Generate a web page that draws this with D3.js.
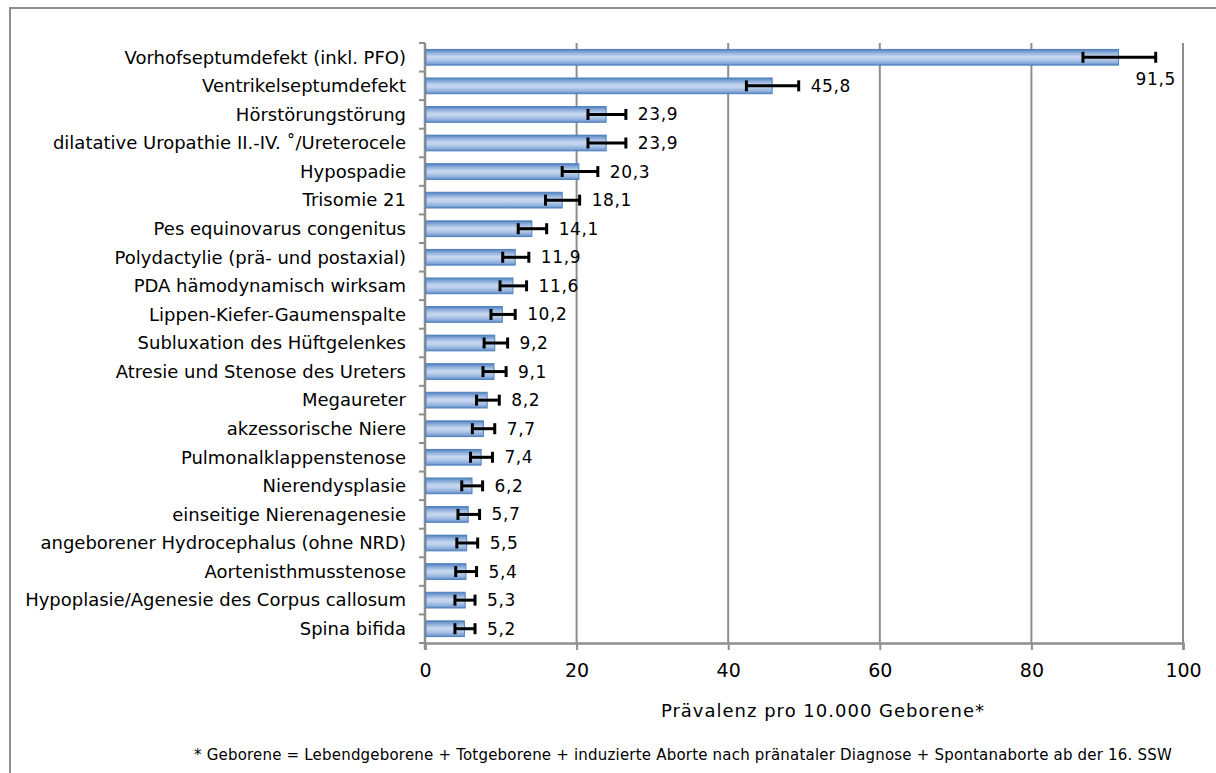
<!DOCTYPE html>
<html>
<head>
<meta charset="utf-8">
<script src="https://cdn.jsdelivr.net/npm/d3@7"></script>
<style>
  html, body { margin: 0; padding: 0; background: #fff; }
  svg { display: block; }
  text { font-family: "DejaVu Sans", Verdana, sans-serif; fill: #000; }
</style>
</head>
<body>
<svg id="chart" width="1216" height="773"></svg>
<script>
// Fehlbildungen: Prävalenz pro 10.000 Geborene mit 95%-Konfidenzintervall
const categories = [
  "Vorhofseptumdefekt (inkl. PFO)",
  "Ventrikelseptumdefekt",
  "Hörstörungstörung",
  "dilatative Uropathie II.-IV. \u02DA/Ureterocele",
  "Hypospadie",
  "Trisomie 21",
  "Pes equinovarus congenitus",
  "Polydactylie (prä- und postaxial)",
  "PDA hämodynamisch wirksam",
  "Lippen-Kiefer-Gaumenspalte",
  "Subluxation des Hüftgelenkes",
  "Atresie und Stenose des Ureters",
  "Megaureter",
  "akzessorische Niere",
  "Pulmonalklappenstenose",
  "Nierendysplasie",
  "einseitige Nierenagenesie",
  "angeborener Hydrocephalus (ohne NRD)",
  "Aortenisthmusstenose",
  "Hypoplasie/Agenesie des Corpus callosum",
  "Spina bifida"
];
const values = [91.5, 45.8, 23.9, 23.9, 20.3, 18.1, 14.1, 11.9, 11.6, 10.2, 9.2, 9.1, 8.2, 7.7, 7.4, 6.2, 5.7, 5.5, 5.4, 5.3, 5.2];
const ciLower = [86.8, 42.4, 21.5, 21.5, 18.1, 15.9, 12.3, 10.25, 9.9, 8.7, 7.8, 7.65, 6.8, 6.25, 6.0, 4.85, 4.35, 4.2, 4.05, 3.95, 3.95];
const ciUpper = [96.4, 49.3, 26.5, 26.5, 22.8, 20.4, 16.05, 13.7, 13.4, 11.9, 10.9, 10.7, 9.8, 9.2, 8.9, 7.6, 7.2, 6.95, 6.8, 6.6, 6.6];
const xTicks = [0, 20, 40, 60, 80, 100];
const axisTitle = "Prävalenz pro 10.000 Geborene*";
const footnote = "* Geborene = Lebendgeborene + Totgeborene + induzierte Aborte nach pränataler Diagnose + Spontanaborte ab der 16. SSW";

const rows = categories.map((c, i) => ({ cat: c, v: values[i], lo: ciLower[i], hi: ciUpper[i] }));

const svg = d3.select("#chart");
const grey = "#8e8e8e";

// outer frame (runs off the right and bottom edge)
svg.append("rect")
  .attr("x", 10).attr("y", 8).attr("width", 1400).attr("height", 1000)
  .attr("fill", "none").attr("stroke", grey).attr("stroke-width", 2);

const plot = { left: 425, right: 1183, top: 43, bottom: 643 };

const x = d3.scaleLinear().domain([0, 100]).range([plot.left, plot.right]);
const y = d3.scaleBand().domain(categories).range([plot.top, plot.bottom]).paddingInner(0.45).paddingOuter(0.225);

// bar gradient
const defs = svg.append("defs");
const grad = defs.append("linearGradient").attr("id", "barGrad")
  .attr("x1", 0).attr("y1", 0).attr("x2", 0).attr("y2", 1);
[[0, "#4f7fbf"], [0.18, "#86a8d8"], [0.45, "#c6d7ef"], [0.6, "#bfd1ec"], [0.85, "#8eaedb"], [1, "#5a88c4"]]
  .forEach(([o, c]) => grad.append("stop").attr("offset", o).attr("stop-color", c));

// vertical gridlines
svg.append("g").selectAll("line").data(xTicks.filter(t => t > 0)).join("line")
  .attr("x1", d => x(d)).attr("x2", d => x(d))
  .attr("y1", plot.top).attr("y2", plot.bottom)
  .attr("stroke", grey).attr("stroke-width", 2);

// x axis
const xAxis = svg.append("g").attr("transform", `translate(0,${plot.bottom})`)
  .call(d3.axisBottom(x).tickValues(xTicks).tickSize(7).tickPadding(14).tickFormat(d3.format("d")));
xAxis.select(".domain").attr("stroke", grey).attr("stroke-width", 2.5);
xAxis.selectAll(".tick line").attr("stroke", grey).attr("stroke-width", 2);
xAxis.selectAll(".tick text").attr("font-size", 19).attr("font-family", "DejaVu Sans");

// y axis with ticks between categories
const yAxisG = svg.append("g");
yAxisG.append("line")
  .attr("x1", plot.left).attr("x2", plot.left)
  .attr("y1", plot.top).attr("y2", plot.bottom + 6)
  .attr("stroke", grey).attr("stroke-width", 2.5);
const bounds = d3.range(categories.length + 1).map(i => plot.top + i * y.step());
yAxisG.selectAll("line.tk").data(bounds).join("line").attr("class", "tk")
  .attr("x1", plot.left - 6).attr("x2", plot.left)
  .attr("y1", d => d).attr("y2", d => d)
  .attr("stroke", grey).attr("stroke-width", 2);

// category labels
svg.append("g").selectAll("text").data(rows).join("text")
  .attr("x", 406)
  .attr("y", d => y(d.cat) + y.bandwidth() / 2)
  .attr("dy", "0.35em")
  .attr("text-anchor", "end")
  .attr("font-size", 18)
  .text(d => d.cat);

// bars
svg.append("g").selectAll("rect").data(rows).join("rect")
  .attr("x", x(0) + 1)
  .attr("y", d => y(d.cat))
  .attr("width", d => x(d.v) - x(0) - 1)
  .attr("height", y.bandwidth())
  .attr("fill", "url(#barGrad)")
  .attr("stroke", "#4f81bd").attr("stroke-width", 1);

// error bars
const eb = svg.append("g").attr("stroke", "#000").attr("stroke-width", 3);
rows.forEach(d => {
  const cy = y(d.cat) + y.bandwidth() / 2;
  eb.append("line").attr("x1", x(d.lo)).attr("x2", x(d.hi)).attr("y1", cy).attr("y2", cy);
  eb.append("line").attr("x1", x(d.lo)).attr("x2", x(d.lo)).attr("y1", cy - 5.5).attr("y2", cy + 5.5);
  eb.append("line").attr("x1", x(d.hi)).attr("x2", x(d.hi)).attr("y1", cy - 5.5).attr("y2", cy + 5.5);
});

// value labels
const fmt = v => d3.format(".1f")(v).replace(".", ",");
svg.append("g").selectAll("text").data(rows).join("text")
  .attr("x", (d, i) => i === 0 ? x(d.hi) : x(d.hi) + 12)
  .attr("y", (d, i) => y(d.cat) + y.bandwidth() / 2 + (i === 0 ? 22 : 0))
  .attr("dy", "0.35em")
  .attr("text-anchor", (d, i) => i === 0 ? "middle" : "start")
  .attr("font-size", 17)
  .attr("letter-spacing", 0.6)
  .text(d => fmt(d.v));

// axis title
svg.append("text")
  .attr("x", 823).attr("y", 711).attr("dy", "0.35em")
  .attr("text-anchor", "middle").attr("font-size", 18)
  .attr("letter-spacing", 1)
  .text(axisTitle);

// footnote
svg.append("text")
  .attr("x", 683).attr("y", 755).attr("dy", "0.35em")
  .attr("text-anchor", "middle").attr("font-size", 15)
  .attr("letter-spacing", 0.2)
  .text(footnote);
</script>
</body>
</html>
